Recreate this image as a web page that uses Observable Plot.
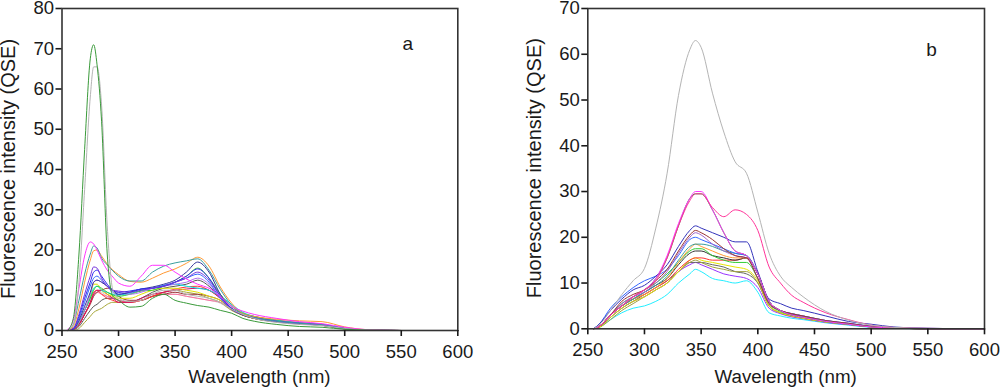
<!DOCTYPE html>
<html><head><meta charset="utf-8">
<script src="https://cdn.jsdelivr.net/npm/d3@7"></script>
<script src="https://cdn.jsdelivr.net/npm/@observablehq/plot@0.6"></script>
<style>
body{margin:0;background:#fff;}
#wrap{display:flex;width:1000px;height:390px;}
#wrap > div{flex:none;width:500px;height:390px;}
svg{display:block;}
</style></head><body><div id="wrap"><div id="pa"></div><div id="pb"></div></div>
<script>
// ---------- Panel a ----------
const wavelengthA = [255,260,265,270,275,278,281,285,290,295,300,310,320,330,340,350,360,370,380,390,400,410,420,440,460,480,500,520,550,600];
const aGreenDark = [0,3,19,45,67.5,71,66,52,19,8.5,7.5,5.8,6,8,9,7.5,6.8,6.2,5.8,5,4.3,3,2.3,1.5,1,0.8,0.3,0.1,0,0];
const aGray      = [0,1.5,12,35,58,65.5,65.5,56,26,10,8,7.2,7.5,9,10,10,9,8.5,8,7,5.3,4,3,2,1.5,1.2,0.5,0.1,0,0];
const aMagenta   = [0.3,2.5,10.5,18.5,22,21.5,20,17.5,15,13.3,11.8,11,13.5,16.2,16.2,14.5,12.8,11.5,10.5,8.5,6,4.8,4,3,2.2,1.7,0.8,0.2,0,0];
const aTeal      = [0,1.5,7.5,14,19,21,20.5,18,16.3,14.8,13.5,12.3,12.3,14.5,16,16.8,17.3,17.8,15,10.2,6.3,4,3.2,2.3,1.8,1.5,0.5,0.1,0,0];
const aOrange    = [0,1,5.5,12,17.5,19.8,20,18.5,16.5,15,13.9,12.2,12,13,14.3,15.3,16.7,18.2,16,10.8,6.8,4.2,3.5,2.8,2.4,2.2,0.9,0.2,0,0];
const aPurple    = [0,0.5,4,9,13.5,15.8,15.5,13,11,10,9.8,9.5,10,10.5,11,12,13,14.5,12.5,8.5,5.3,4,3.2,2.2,1.7,1.4,0.5,0.1,0,0];
const aBlue      = [0,0.5,3.5,8,12,14.5,15,13.5,11.5,10,9.5,9.8,10.3,10.5,11,12,13.5,15.3,13,8.5,5.5,4,3.2,2.3,1.8,1.5,0.5,0.1,0,0];
const aRoyal     = [0,0.5,3,7,11,13,13.5,12.5,11,9.5,9,9.5,10.3,10.5,11.2,12,13,14,12,8,5.3,4,3.2,2.2,1.7,1.4,0.5,0.1,0,0];
const aNavy      = [0,0.3,2.5,6,9.5,12,12.5,12,11,10,9,9.5,10.3,10.8,11.5,12.5,14.5,17,14.5,9,5.5,4,3.2,2.2,1.7,1.4,0.5,0.1,0,0];
const aLime      = [0,0.3,2,5,8,10,11,10.5,9.5,8.8,8.5,9,9.8,10,11,12,13.5,15.5,13,9,6,4.3,3.4,2.4,1.8,1.4,0.5,0.1,0,0];
const aCyan      = [0,0.3,2,5,8,10.5,11,10,9.5,9,8.8,9.2,10,10.5,11.2,11.5,11,10.5,10,8.5,6.5,4.5,3.5,2.5,1.9,1.5,0.5,0.1,0,0];
const aYellow    = [0,0.3,2,5,8.5,11.5,11.5,10,9,8.5,8,8,9,10,10.5,10.5,10,9.5,8.5,7.5,5.5,4,3.2,2.3,1.8,1.4,0.5,0.1,0,0];
const aRed       = [0,0.3,1.5,4,7,9.5,10,9,8,7.5,7,7,7.5,8.5,9.5,10.3,10.8,11,10,8,5.5,4,3.2,2.3,1.8,1.4,0.5,0.1,0,0];
const aBrown     = [0,0.3,1.5,4,6.5,8.5,9.5,10,10.5,10,8.5,7.5,7.5,8.5,9,9.5,9,9,8.5,7.5,5.3,3.8,3,2.2,1.7,1.3,0.4,0.1,0,0];
const aDarkGray  = [0,0.2,1,3,5,6,6.5,7.5,8,8,7.5,7,8,9.5,10.5,11,11.5,12.5,11,8,5.3,3.8,3,2.2,1.7,1.3,0.4,0.1,0,0];
const aOlive     = [0,0,0.5,2,3.5,4.5,5,5.5,6.5,7,7,7,7.5,8.5,9.5,10,9.5,9,8,7,5,3.8,3,2.1,1.6,1.3,0.4,0.1,0,0];
const aPink      = [0,0.3,1.5,4,7,9,9.5,9,8.5,8,7.5,7,7.5,8.5,9,9,8.5,8,7.5,7,5.5,4,3.4,2.6,2,1.6,0.5,0.1,0,0];
const aCrimson   = [0,0.3,1.5,4,7,9,10,10,9,8,7,7,8,9,9.5,10,10.3,10.5,10,8,5.3,4.2,3.5,2.5,1.9,1.5,0.5,0.1,0,0];
const aLavender  = [0,0.3,2,5,9,12,12.5,12,11,10,9.5,9,9.5,10.5,11,11.5,12,13,11.5,8,5.5,4,3.2,2.3,1.8,1.4,0.5,0.1,0,0];
const aLightGray = [0,0.3,2,5,8,9.5,10,9.5,8.5,8,7.5,7,7.5,8.5,9,9,8.5,8,7.5,6.8,5,3.8,3,2.2,1.7,1.3,0.4,0.1,0,0];

// ---------- Panel b ----------
const wavelengthB = [255,260,270,280,290,300,310,320,330,340,345,350,360,370,380,390,400,410,420,430,440,460,480,500,520,550,600];
const bGray     = [0,0.8,4,7.5,10.5,13.2,22,34,51,61,63,61.5,51.5,43,36.5,34,25.5,16.5,11.5,9,7,3.8,1.9,0.8,0.3,0.1,0];
const bMagenta  = [0,0.5,3,5,7,8.5,11,16,23,28.5,30,30,26,21,17,16,12,6,4,3,2.5,1.6,1,0.4,0.2,0,0];
const bPink     = [0,0.5,3,5,7,8.5,10.5,15.5,22.5,28,29.5,29.5,26.5,24.5,26,25,21.5,13.5,10,7.3,5.8,3.5,2,0.8,0.3,0.1,0];
const bGreen    = [0,0.5,3,5,7,8.5,11,15.5,22.5,28.5,29.5,29.5,26,21,17,16,12,6,4,3,2.5,1.6,1,0.4,0.2,0,0];
const bNavy     = [0,1,4,6.5,8.5,9.5,11.5,14,18,21.5,22.5,22,21,20,19,19,12.5,6.5,5.5,4.5,4,2.8,1.6,1,0.4,0.1,0];
const bBrown    = [0,0.5,3,6,7.5,8.5,10.5,13,17,20.5,21.5,21,19.5,17.5,16,15.5,11,5.5,4,3.3,2.8,1.8,1.2,0.5,0.2,0,0];
const bViolet   = [0,0.5,3,5.5,7,8,10,12.5,16.5,20,21,20.5,18.5,17,16,15.5,11,5.5,4,3.3,2.8,1.8,1.2,0.5,0.2,0,0];
const bBlue     = [0,1,4.5,7,9,10.5,11.5,13,16,19.5,20,19.5,18.5,17.5,16.5,16,12,6,4,3.3,2.8,1.8,1.2,0.6,0.3,0.1,0];
const bTeal     = [0,0.5,3,5,6.5,8,9.5,11.5,15,18,18.5,18.5,18,17,16.5,16,12,6,4,3.3,2.8,1.8,1.1,0.5,0.2,0,0];
const bOrange   = [0,0.5,3,5,6.5,7.5,9,11,14.5,17.5,18.5,18,17,16,15.5,15.5,12,6,4,3.2,2.6,1.7,1.1,0.5,0.2,0,0];
const bLime     = [0,0.5,3,5.5,7,8.5,10,12,14.5,17,17.5,17.5,16,15,14.5,14.5,11,5.5,3.8,3,2.5,1.6,1,0.5,0.2,0,0];
const bBlack    = [0,0.5,3,5,6.5,8,9.5,11,14,16.5,17,17,16,15.5,15,15.5,12,6,4,3.2,2.6,1.7,1.1,0.5,0.2,0,0];
const bRed      = [0,0.5,3,5,6.5,7.5,9,10.5,13,15,15.5,15.5,15,15,15,15.5,12,6,4,3.2,2.6,1.7,1.1,0.5,0.2,0,0];
const bYellow   = [0,0.3,2.5,4.5,6,7,8.5,10,12.5,15,15.5,15,14.5,14,13.5,13,10.5,5,3.5,2.8,2.3,1.5,1,0.4,0.2,0,0];
const bOlive    = [0,0.3,2,4,5.5,7,8.5,10,12.5,14.5,15,14.5,13.5,13,12.5,12.5,10,5,3.5,2.8,2.3,1.5,1,0.4,0.2,0,0];
const bDarkGray = [0,0.3,2.5,4.5,6,7.5,9,10.5,12.5,14.5,14.5,14.5,14,13.5,12.5,12,10,5,3.5,2.8,2.3,1.5,1,0.4,0.2,0,0];
const bPurple   = [0,0.5,2.5,4.5,6,7,8.5,10,12.5,14,14.5,14,13,12,11.5,11,9,4.5,3.3,2.6,2.2,1.4,0.9,0.4,0.2,0,0];
const bCyan     = [0,0.3,2,3.5,4.5,5,6,7.5,10,12,13,12.5,11,10.5,10,10.5,8,3.5,2.8,2.3,2,1.3,0.8,0.3,0.1,0,0];

const xTicks = [250,300,350,400,450,500,550,600];
const yTicksA = [0,10,20,30,40,50,60,70,80];
const yTicksB = [0,10,20,30,40,50,60,70];
const xLabel = "Wavelength (nm)";
const yLabel = "Fluorescence intensity (QSE)";

const seriesA = [
  [aLightGray,"#c8c8c8"],[aOlive,"#a8a83a"],[aDarkGray,"#555555"],[aPink,"#ff6f9f"],[aBrown,"#993333"],
  [aRed,"#ff3333"],[aCrimson,"#d01060"],[aYellow,"#e0e000"],[aCyan,"#00e8e8"],[aLime,"#33cc33"],
  [aLavender,"#b070f0"],[aRoyal,"#3366ff"],[aNavy,"#333399"],[aBlue,"#2a2aee"],[aPurple,"#7733dd"],
  [aOrange,"#ff9933"],[aTeal,"#3a9e9e"],[aMagenta,"#ff33ff"],[aGray,"#b4b4b4"],[aGreenDark,"#3a9a3a"]
];
const seriesB = [
  [bCyan,"#22eeff"],[bPurple,"#9933ff"],[bDarkGray,"#666666"],[bOlive,"#a0a040"],[bYellow,"#e6e600"],
  [bRed,"#ff3333"],[bBlack,"#333333"],[bLime,"#33cc33"],[bOrange,"#ff9933"],[bTeal,"#3a9e9e"],
  [bBlue,"#3366ff"],[bViolet,"#a066cc"],[bBrown,"#993333"],[bNavy,"#3333bb"],
  [bGreen,"#3a9a3a"],[bMagenta,"#ff33ff"],[bPink,"#ff3399"],[bGray,"#b4b4b4"]
];

function tidy(wl, series) {
  const rows = [];
  series.forEach(([vals, color], i) => {
    vals.forEach((v, j) => rows.push({w: wl[j], v, s: i, c: color}));
  });
  return rows;
}

function panel(el, wl, series, yMax, yTicks, m, letter, letterDx, letterDy) {
  const rows = tidy(wl, series);
  const svg = Plot.plot({
    width: 500, height: 390,
    marginLeft: m[0], marginRight: m[1], marginTop: m[2], marginBottom: m[3],
    style: {fontFamily: "'Liberation Sans', Arial, sans-serif", fontSize: "18.5px", color: "#1a1a1a", background: "#fff", overflow: "visible"},
    x: {domain: [250, 600]},
    y: {domain: [0, yMax]},
    marks: [
      Plot.line(rows, {x: "w", y: "v", z: "s", stroke: "c", strokeWidth: 1, curve: "monotone-x"}),
      Plot.frame({stroke: "#333", strokeWidth: 1.6}),
      Plot.axisX({ticks: xTicks, tickSize: 6, tickPadding: 8, strokeWidth: 1.6, fontSize: 18.5, label: null}),
      Plot.axisY({ticks: yTicks, tickSize: 6, tickPadding: 2, strokeWidth: 1.6, fontSize: 18.5, label: null}),
      Plot.text([letter], {text: d => d, frameAnchor: "top-right", dx: letterDx, dy: letterDy, lineAnchor: "bottom", textAnchor: "middle", fontSize: 19, fill: "#1a1a1a"})
    ]
  });
  const s = d3.select(svg);
  const left = m[0], right = 500 - m[1], top = m[2], bottom = 390 - m[3];
  s.append("text").attr("x", (left + right) / 2).attr("y", 383)
    .attr("text-anchor", "middle").attr("fill", "#1a1a1a").attr("font-size", 18.8).text(xLabel);
  s.append("text").attr("transform", `translate(${left - 46.3},${(top + bottom) / 2}) rotate(-90)`)
    .attr("text-anchor", "middle").attr("fill", "#1a1a1a").attr("font-size", 20).text(yLabel);
  document.getElementById(el).appendChild(svg);
}

panel("pa", wavelengthA, seriesA, 80, yTicksA, [61.5, 42.7, 8, 60], "a", -50, 41);
panel("pb", wavelengthB, seriesB, 70, yTicksB, [87.3, 16, 8, 61.7], "b", -53, 47);
</script></body></html>
